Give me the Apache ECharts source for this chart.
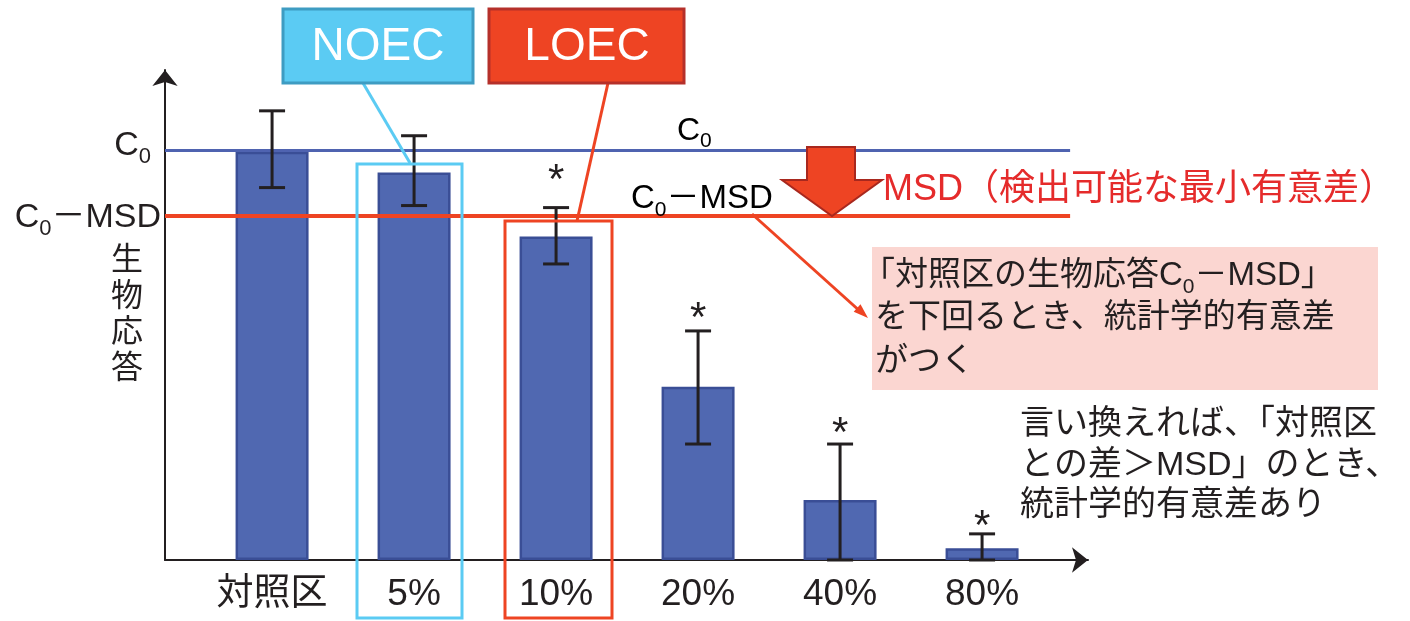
<!DOCTYPE html>
<html><head><meta charset="utf-8">
<script src="https://cdn.jsdelivr.net/npm/echarts@6/dist/echarts.min.js"></script>
<style>html,body{margin:0;padding:0;background:#fff}#c{width:1410px;height:621px}</style>
</head><body><div id="c"></div>
<script>
// ---- data ----
const categories = ['対照区', '5%', '10%', '20%', '40%', '80%'];
const responses  = [100, 94.9, 79.2, 42.4, 14.7, 2.9];
const errLow     = [91.2, 86.8, 72.5, 28.4, 0, 0];
const errHigh    = [110.0, 103.9, 86.3, 56.1, 28.4, 6.4];
const sigMarkY   = [null, null, 95.6, 61.8, 33.6, 11.0];
const c0Level    = 100.4;
const c0MsdLevel = 84.3;
const xRange     = [-0.754, 5.746];
const refLineEndX = 5.62;

const FONT = "'Liberation Sans', Arial, 'Noto Sans CJK JP', sans-serif";
const INK = '#231F20';
const BLUE_FILL = '#5068B1', BLUE_EDGE = '#3A4E96';
const RED = '#EE4423', CYAN = '#5BCBF3';

const chart = echarts.init(document.getElementById('c'), null, {renderer: 'canvas'});

function richSub(size, subSize) {
  return {
    c: {fontSize: size, fontFamily: FONT, color: INK, lineHeight: size},
    s: {fontSize: subSize, fontFamily: FONT, color: INK, lineHeight: subSize, padding: [Math.round(size * 0.66), 0, 0, 0]}
  };
}
const richC0 = richSub(34, 22);

const option = {
  animation: false,
  backgroundColor: '#fff',
  textStyle: {fontFamily: FONT},
  grid: {left: 165, right: 1410 - 1088, top: 70, bottom: 621 - 560, containLabel: false},
  xAxis: {
    type: 'value', min: xRange[0], max: xRange[1],
    splitLine: {show: false},
    axisTick: {show: false},
    axisLine: {show: true, onZero: false, lineStyle: {color: INK, width: 2}, symbol: ['none', 'arrow'], symbolSize: [19, 16]},
    axisLabel: {
      customValues: categories.map((_, i) => i),
      formatter: v => categories[Math.round(v)] || '',
      fontSize: 37, color: INK, fontFamily: FONT, margin: 16
    }
  },
  yAxis: {
    type: 'value', min: 0, max: 120,
    splitLine: {show: false}, axisTick: {show: false}, axisLabel: {show: false},
    axisLine: {show: true, onZero: false, lineStyle: {color: INK, width: 2}, symbol: ['none', 'arrow'], symbolSize: [19, 16]},
    name: '生\n物\n応\n答', nameLocation: 'middle', nameRotate: 0, nameGap: 22,
    nameTextStyle: {fontSize: 32, lineHeight: 36, color: INK, fontFamily: FONT}
  },
  series: [
    {
      type: 'bar', barWidth: 73, z: 2,
      data: responses.map((v, i) => [i, v]),
      itemStyle: {color: BLUE_FILL, borderColor: BLUE_EDGE, borderWidth: 2.5},
      markLine: {
        silent: true, symbol: ['none', 'none'], animation: false, z: 3,
        data: [
          [
            {coord: [xRange[0], c0Level], lineStyle: {color: '#4F63B0', width: 3, type: 'solid'},
             label: {show: true, position: 'start', distance: 14, offset: [0, -4], formatter: '{c|C}{s|0}', rich: richC0}},
            {coord: [refLineEndX, c0Level]}
          ],
          [
            {coord: [xRange[0], c0MsdLevel], lineStyle: {color: RED, width: 4, type: 'solid'},
             label: {show: true, position: 'start', distance: 4, offset: [0, 2], formatter: '{c|C}{s|0}{c|－MSD}', rich: richC0}},
            {coord: [refLineEndX, c0MsdLevel]}
          ]
        ]
      }
    },
    {
      type: 'custom', z: 4,
      data: categories.map((_, i) => [i, errLow[i], errHigh[i]]),
      renderItem: (params, api) => {
        const x = api.value(0);
        const pLo = api.coord([x, api.value(1)]);
        const pHi = api.coord([x, api.value(2)]);
        const hw = 13;
        const style = {stroke: INK, lineWidth: 3};
        return {type: 'group', children: [
          {type: 'line', shape: {x1: pLo[0], y1: pLo[1], x2: pHi[0], y2: pHi[1]}, style},
          {type: 'line', shape: {x1: pHi[0] - hw, y1: pHi[1], x2: pHi[0] + hw, y2: pHi[1]}, style},
          {type: 'line', shape: {x1: pLo[0] - hw, y1: pLo[1], x2: pLo[0] + hw, y2: pLo[1]}, style}
        ]};
      }
    },
    {
      type: 'custom', z: 4,
      data: categories.map((_, i) => [i, sigMarkY[i]]).filter(d => d[1] != null),
      renderItem: (params, api) => {
        const p = api.coord([api.value(0), api.value(1)]);
        return {type: 'text', x: p[0], y: p[1] + 12,
          style: {text: '*', fontSize: 42, fontFamily: FONT, fill: INK, align: 'center', verticalAlign: 'middle'}};
      }
    }
  ],
  graphic: [
    // highlight frames
    {type: 'rect', z: 10, shape: {x: 357, y: 164, width: 105, height: 454}, style: {fill: 'none', stroke: CYAN, lineWidth: 3}},
    {type: 'rect', z: 10, shape: {x: 505, y: 221, width: 107, height: 397}, style: {fill: 'none', stroke: RED, lineWidth: 3}},
    // connectors
    {type: 'line', z: 10, shape: {x1: 363, y1: 83, x2: 410, y2: 163}, style: {stroke: CYAN, lineWidth: 3}},
    {type: 'line', z: 10, shape: {x1: 608, y1: 83, x2: 577, y2: 221}, style: {stroke: RED, lineWidth: 3}},
    // NOEC / LOEC boxes
    {type: 'rect', z: 11, shape: {x: 283, y: 9, width: 190, height: 74}, style: {fill: CYAN, stroke: '#3E9CC2', lineWidth: 3}},
    {type: 'text', z: 12, x: 378, y: 47, style: {text: 'NOEC', fontSize: 46, fontFamily: FONT, fill: '#fff', align: 'center', verticalAlign: 'middle'}},
    {type: 'rect', z: 11, shape: {x: 489, y: 9, width: 195, height: 74}, style: {fill: RED, stroke: '#B5302A', lineWidth: 3}},
    {type: 'text', z: 12, x: 587, y: 47, style: {text: 'LOEC', fontSize: 46, fontFamily: FONT, fill: '#fff', align: 'center', verticalAlign: 'middle'}},
    // in-plot labels for the reference lines
    {type: 'text', z: 10, x: 677, y: 131, style: {text: '{c|C}{s|0}', rich: richSub(32, 21), align: 'left', verticalAlign: 'middle'}},
    {type: 'text', z: 10, x: 631, y: 199, style: {text: '{c|C}{s|0}{c|－MSD}', rich: richSub(33, 21), align: 'left', verticalAlign: 'middle'}},
    // big down arrow
    {type: 'polygon', z: 10, shape: {points: [[807, 147], [855, 147], [855, 180], [882, 180], [832, 216], [782, 180], [807, 180]]},
     style: {fill: RED, stroke: '#A8281E', lineWidth: 2}},
    {type: 'text', z: 10, x: 883, y: 190, style: {text: 'MSD（検出可能な最小有意差）', fontSize: 36, fontFamily: FONT, fill: '#E52B2B', align: 'left', verticalAlign: 'middle'}},
    // callout arrow
    {type: 'line', z: 10, shape: {x1: 752, y1: 214, x2: 862, y2: 313}, style: {stroke: RED, lineWidth: 3}},
    {type: 'polygon', z: 10, shape: {points: [[868, 318], [853.7, 311.7], [860.5, 304.3]]}, style: {fill: RED}},
    // pink callout
    {type: 'rect', z: 9, shape: {x: 872, y: 247, width: 506, height: 143}, style: {fill: '#FBD6D1'}},
    {type: 'text', z: 10, x: 862, y: 276, style: {text: '「対照区の生物応答{c|C}{s|0}{c|－MSD」}', fontSize: 33, fontFamily: FONT, fill: INK, align: 'left', verticalAlign: 'middle',
      rich: richSub(33, 21)}},
    {type: 'text', z: 10, x: 875, y: 318, style: {text: 'を下回るとき、統計学的有意差', fontSize: 33, fontFamily: FONT, fill: INK, align: 'left', verticalAlign: 'middle'}},
    {type: 'text', z: 10, x: 875, y: 362, style: {text: 'がつく', fontSize: 33, fontFamily: FONT, fill: INK, align: 'left', verticalAlign: 'middle'}},
    // right-hand note
    {type: 'text', z: 10, x: 1020, y: 425, style: {text: '言い換えれば、「対照区', fontSize: 34, fontFamily: FONT, fill: INK, align: 'left', verticalAlign: 'middle'}},
    {type: 'text', z: 10, x: 1020, y: 466, style: {text: 'との差＞MSD」のとき、', fontSize: 34, fontFamily: FONT, fill: INK, align: 'left', verticalAlign: 'middle'}},
    {type: 'text', z: 10, x: 1020, y: 506, style: {text: '統計学的有意差あり', fontSize: 34, fontFamily: FONT, fill: INK, align: 'left', verticalAlign: 'middle'}}
  ]
};
chart.setOption(option);
</script>
</body></html>
